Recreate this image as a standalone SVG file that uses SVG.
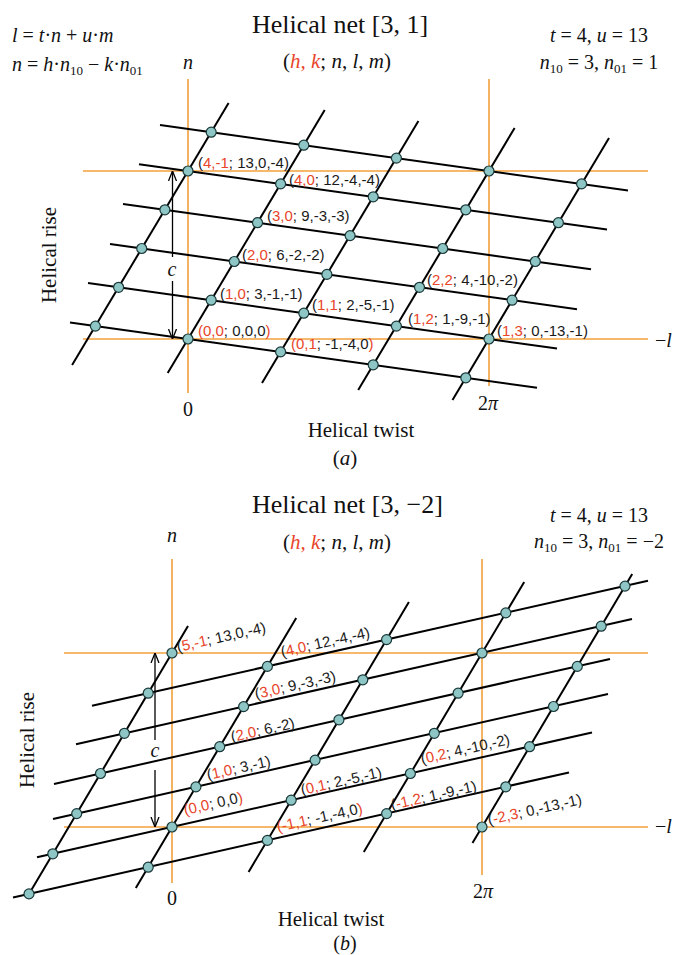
<svg xmlns="http://www.w3.org/2000/svg" width="675" height="955" viewBox="0 0 675 955">
<style>
.ln{stroke:#000;stroke-width:2;fill:none;stroke-linecap:butt}
.ax{stroke:#f2a03c;stroke-width:1.6;fill:none}
.nd{fill:#8ec6c6;stroke:#1b3838;stroke-width:1.2}
.lb{font-family:"Liberation Sans",Arial,sans-serif;font-size:15px;fill:#1a1a1a}
.r{fill:#e8452a}
.k{fill:#1a1a1a}
.sf{font-family:"Liberation Serif","Times New Roman",serif;fill:#111}
.f{font-size:20px}
.i{font-style:italic}
.sub{font-size:13px}
.arw{stroke:#000;stroke-width:1.3;fill:none}
</style>
<defs>
<marker id="ah" viewBox="0 0 10 10" refX="10" refY="5" markerWidth="10" markerHeight="10" markerUnits="userSpaceOnUse" orient="auto">
<path d="M0,1 L10,5 L0,9" fill="none" stroke="#000" stroke-width="1.3"/>
</marker>
</defs>

<!-- ============ Panel (a) ============ -->
<g id="a-texts">
<text class="sf" font-size="26" x="252" y="33">Helical net [3, 1]</text>
<text class="sf" font-size="21" x="337" y="68" text-anchor="middle">(<tspan class="i r">h, k</tspan>; <tspan class="i">n</tspan>, <tspan class="i">l</tspan>, <tspan class="i">m</tspan>)</text>
<text class="sf f" x="12" y="42"><tspan class="i">l</tspan> = <tspan class="i">t</tspan>·<tspan class="i">n</tspan> + <tspan class="i">u</tspan>·<tspan class="i">m</tspan></text>
<text class="sf f" x="12" y="71"><tspan class="i">n</tspan> = <tspan class="i">h</tspan>·<tspan class="i">n</tspan><tspan class="sub" dy="4">10</tspan><tspan dy="-4"> − </tspan><tspan class="i">k</tspan>·<tspan class="i">n</tspan><tspan class="sub" dy="4">01</tspan></text>
<text class="sf f" x="599" y="42" text-anchor="middle"><tspan class="i">t</tspan> = 4, <tspan class="i">u</tspan> = 13</text>
<text class="sf f" x="599" y="69" text-anchor="middle"><tspan class="i">n</tspan><tspan class="sub" dy="4">10</tspan><tspan dy="-4"> = 3, </tspan><tspan class="i">n</tspan><tspan class="sub" dy="4">01</tspan><tspan dy="-4"> = 1</tspan></text>
<text class="sf f i" x="188" y="69" text-anchor="middle">n</text>
<text class="sf" font-size="21" transform="translate(56,255) rotate(-90)" text-anchor="middle">Helical rise</text>
<text class="sf f i" x="172" y="276" text-anchor="middle">c</text>
<text class="sf f" x="188" y="416" text-anchor="middle">0</text>
<text class="sf f" x="488" y="410" text-anchor="middle">2<tspan class="i">π</tspan></text>
<text class="sf f" x="655" y="347">−<tspan class="i">l</tspan></text>
<text class="sf" font-size="21" x="361" y="437" text-anchor="middle">Helical twist</text>
<text class="sf" font-size="21" x="345" y="465" text-anchor="middle">(<tspan class="i">a</tspan>)</text>
</g>

<g id="a-axes">
<line class="ax" x1="188" y1="79" x2="188" y2="393"/>
<line class="ax" x1="489" y1="79" x2="489" y2="386"/>
<line class="ax" x1="83" y1="171" x2="648" y2="171"/>
<line class="ax" x1="83" y1="339" x2="648" y2="339"/>
</g>

<g id="a-connectors">
<line class="ln" x1="72.1" y1="365" x2="228.6" y2="103"/>
<line class="ln" x1="167.7" y1="373" x2="324.7" y2="110"/>
<line class="ln" x1="262" y1="383" x2="418.4" y2="121"/>
<line class="ln" x1="358.2" y1="390" x2="514.6" y2="128"/>
<line class="ln" x1="452.5" y1="400" x2="609" y2="138"/>
<line class="ln" x1="70" y1="322.6" x2="537" y2="387.7"/>
<line class="ln" x1="88" y1="283" x2="557" y2="348.5"/>
<line class="ln" x1="110" y1="244.1" x2="577" y2="309.2"/>
<line class="ln" x1="123" y1="204" x2="591" y2="269.2"/>
<line class="ln" x1="139" y1="164.2" x2="607" y2="229.5"/>
<line class="ln" x1="160" y1="125.1" x2="628" y2="190.4"/>
<line class="arw" x1="172.5" y1="257" x2="172.5" y2="171" marker-end="url(#ah)"/>
<line class="arw" x1="172.5" y1="281" x2="172.5" y2="339" marker-end="url(#ah)"/>
</g>

<g id="a-nodes">
<g id="a_0_m1"><circle class="nd" cx="95.4" cy="326.1" r="5"/></g>
<g id="a_1_m1"><circle class="nd" cx="118.6" cy="287.3" r="5"/></g>
<g id="a_2_m1"><circle class="nd" cx="141.7" cy="248.5" r="5"/></g>
<g id="a_3_m1"><circle class="nd" cx="164.9" cy="209.8" r="5"/></g>
<g id="a_4_m1"><circle class="nd" cx="188" cy="171" r="5"/><text class="lb" x="198" y="168">(<tspan class="r">4,-1</tspan>; 13,0,-4)</text></g>
<g id="a_5_m1"><circle class="nd" cx="211.2" cy="132.2" r="5"/></g>
<g id="a_0_0"><circle class="nd" cx="188" cy="339" r="5"/><text class="lb r" x="198" y="336">(0,0<tspan class="k">; 0,0,0</tspan>)</text></g>
<g id="a_1_0"><circle class="nd" cx="211.2" cy="300.2" r="5"/><text class="lb" x="220" y="299">(<tspan class="r">1,0</tspan>; 3,-1,-1)</text></g>
<g id="a_2_0"><circle class="nd" cx="234.3" cy="261.5" r="5"/><text class="lb" x="242" y="260">(<tspan class="r">2,0</tspan>; 6,-2,-2)</text></g>
<g id="a_3_0"><circle class="nd" cx="257.5" cy="222.7" r="5"/><text class="lb" x="267" y="221">(<tspan class="r">3,0</tspan>; 9,-3,-3)</text></g>
<g id="a_4_0"><circle class="nd" cx="280.6" cy="183.9" r="5"/><text class="lb" x="289" y="185">(<tspan class="r">4,0</tspan>; 12,-4,-4)</text></g>
<g id="a_5_0"><circle class="nd" cx="303.8" cy="145.2" r="5"/></g>
<g id="a_0_1"><circle class="nd" cx="280.6" cy="351.9" r="5"/><text class="lb r" x="291" y="349">(0,1<tspan class="k">; -1,-4,0</tspan>)</text></g>
<g id="a_1_1"><circle class="nd" cx="303.8" cy="313.2" r="5"/><text class="lb" x="312" y="310">(<tspan class="r">1,1</tspan>; 2,-5,-1)</text></g>
<g id="a_2_1"><circle class="nd" cx="326.9" cy="274.4" r="5"/></g>
<g id="a_3_1"><circle class="nd" cx="350.1" cy="235.6" r="5"/></g>
<g id="a_4_1"><circle class="nd" cx="373.2" cy="196.8" r="5"/></g>
<g id="a_5_1"><circle class="nd" cx="396.4" cy="158.1" r="5"/></g>
<g id="a_0_2"><circle class="nd" cx="373.2" cy="364.8" r="5"/></g>
<g id="a_1_2"><circle class="nd" cx="396.4" cy="326.1" r="5"/><text class="lb" x="408" y="324">(<tspan class="r">1,2</tspan>; 1,-9,-1)</text></g>
<g id="a_2_2"><circle class="nd" cx="419.5" cy="287.3" r="5"/><text class="lb" x="427" y="285">(<tspan class="r">2,2</tspan>; 4,-10,-2)</text></g>
<g id="a_3_2"><circle class="nd" cx="442.7" cy="248.5" r="5"/></g>
<g id="a_4_2"><circle class="nd" cx="465.8" cy="209.8" r="5"/></g>
<g id="a_5_2"><circle class="nd" cx="489" cy="171" r="5"/></g>
<g id="a_0_3"><circle class="nd" cx="465.8" cy="377.8" r="5"/></g>
<g id="a_1_3"><circle class="nd" cx="489" cy="339" r="5"/><text class="lb" x="497" y="336">(<tspan class="r">1,3</tspan>; 0,-13,-1)</text></g>
<g id="a_2_3"><circle class="nd" cx="512.1" cy="300.2" r="5"/></g>
<g id="a_3_3"><circle class="nd" cx="535.3" cy="261.5" r="5"/></g>
<g id="a_4_3"><circle class="nd" cx="558.4" cy="222.7" r="5"/></g>
<g id="a_5_3"><circle class="nd" cx="581.6" cy="183.9" r="5"/></g>
</g>

<!-- ============ Panel (b) ============ -->
<g id="b-texts">
<text class="sf" font-size="26" x="252" y="513">Helical net [3, −2]</text>
<text class="sf" font-size="21" x="337" y="549" text-anchor="middle">(<tspan class="i r">h, k</tspan>; <tspan class="i">n</tspan>, <tspan class="i">l</tspan>, <tspan class="i">m</tspan>)</text>
<text class="sf f" x="599" y="522" text-anchor="middle"><tspan class="i">t</tspan> = 4, <tspan class="i">u</tspan> = 13</text>
<text class="sf f" x="599" y="548" text-anchor="middle"><tspan class="i">n</tspan><tspan class="sub" dy="4">10</tspan><tspan dy="-4"> = 3, </tspan><tspan class="i">n</tspan><tspan class="sub" dy="4">01</tspan><tspan dy="-4"> = −2</tspan></text>
<text class="sf f i" x="172" y="542" text-anchor="middle">n</text>
<text class="sf" font-size="21" transform="translate(34,740) rotate(-90)" text-anchor="middle">Helical rise</text>
<text class="sf f i" x="155" y="757" text-anchor="middle">c</text>
<text class="sf f" x="172" y="905" text-anchor="middle">0</text>
<text class="sf f" x="483" y="898" text-anchor="middle">2<tspan class="i">π</tspan></text>
<text class="sf f" x="655" y="833">−<tspan class="i">l</tspan></text>
<text class="sf" font-size="21" x="331" y="926" text-anchor="middle">Helical twist</text>
<text class="sf" font-size="20" x="345" y="950" text-anchor="middle">(<tspan class="i">b</tspan>)</text>
</g>

<g id="b-axes">
<line class="ax" x1="172" y1="559" x2="172" y2="883"/>
<line class="ax" x1="482" y1="559" x2="482" y2="875"/>
<line class="ax" x1="64" y1="653" x2="648" y2="653"/>
<line class="ax" x1="64" y1="827" x2="648" y2="827"/>
</g>

<g id="b-connectors">
<line class="ln" x1="29" y1="894" x2="188" y2="626"/>
<line class="ln" x1="135.8" y1="888" x2="296.2" y2="618"/>
<line class="ln" x1="248.6" y1="872" x2="408.9" y2="602"/>
<line class="ln" x1="363.8" y1="852" x2="524.2" y2="582"/>
<line class="ln" x1="472.5" y1="843" x2="632.2" y2="574"/>
<line class="ln" x1="13" y1="897.5" x2="569" y2="772.4"/>
<line class="ln" x1="37" y1="857.3" x2="592" y2="732.5"/>
<line class="ln" x1="53" y1="818.9" x2="608" y2="694"/>
<line class="ln" x1="54" y1="783.9" x2="610" y2="658.9"/>
<line class="ln" x1="76" y1="744.2" x2="632" y2="619"/>
<line class="ln" x1="92" y1="705.8" x2="648" y2="580.8"/>
<line class="arw" x1="155" y1="740" x2="155" y2="653" marker-end="url(#ah)"/>
<line class="arw" x1="155" y1="770" x2="155" y2="827" marker-end="url(#ah)"/>
</g>

<g id="b-nodes">
<g id="b_m1_m1"><circle class="nd" cx="29" cy="893.9" r="5"/></g>
<g id="b_0_m1"><circle class="nd" cx="52.8" cy="853.8" r="5"/></g>
<g id="b_1_m1"><circle class="nd" cx="76.7" cy="813.6" r="5"/></g>
<g id="b_2_m1"><circle class="nd" cx="100.5" cy="773.5" r="5"/></g>
<g id="b_3_m1"><circle class="nd" cx="124.4" cy="733.3" r="5"/></g>
<g id="b_4_m1"><circle class="nd" cx="148.2" cy="693.2" r="5"/></g>
<g id="b_5_m1"><circle class="nd" cx="172" cy="653" r="5"/><text class="lb" transform="translate(178,652) rotate(-12.66)">(<tspan class="r">5,-1</tspan>; 13,0,-4)</text></g>
<g id="b_m1_0"><circle class="nd" cx="148.2" cy="867.2" r="5"/></g>
<g id="b_0_0"><circle class="nd" cx="172" cy="827" r="5"/><text class="lb r" transform="translate(185,815) rotate(-12.66)">(0,0<tspan class="k">; 0,0</tspan>)</text></g>
<g id="b_1_0"><circle class="nd" cx="195.9" cy="786.9" r="5"/><text class="lb" transform="translate(208,780) rotate(-12.66)">(<tspan class="r">1,0</tspan>; 3,-1)</text></g>
<g id="b_2_0"><circle class="nd" cx="219.7" cy="746.7" r="5"/><text class="lb" transform="translate(232,742) rotate(-12.66)">(<tspan class="r">2,0</tspan>; 6,-2)</text></g>
<g id="b_3_0"><circle class="nd" cx="243.6" cy="706.6" r="5"/><text class="lb" transform="translate(256,699) rotate(-12.66)">(<tspan class="r">3,0</tspan>; 9,-3,-3)</text></g>
<g id="b_4_0"><circle class="nd" cx="267.4" cy="666.4" r="5"/><text class="lb" transform="translate(282,657) rotate(-12.66)">(<tspan class="r">4,0</tspan>; 12,-4,-4)</text></g>
<g id="b_m1_1"><circle class="nd" cx="267.4" cy="840.4" r="5"/><text class="lb r" transform="translate(278,832) rotate(-12.66)">(-1,1<tspan class="k">; -1,-4,0</tspan>)</text></g>
<g id="b_0_1"><circle class="nd" cx="291.2" cy="800.2" r="5"/><text class="lb" transform="translate(302,795) rotate(-12.66)">(<tspan class="r">0,1</tspan>; 2,-5,-1)</text></g>
<g id="b_1_1"><circle class="nd" cx="315.1" cy="760.1" r="5"/></g>
<g id="b_2_1"><circle class="nd" cx="338.9" cy="719.9" r="5"/></g>
<g id="b_3_1"><circle class="nd" cx="362.8" cy="679.8" r="5"/></g>
<g id="b_4_1"><circle class="nd" cx="386.6" cy="639.6" r="5"/></g>
<g id="b_m1_2"><circle class="nd" cx="386.6" cy="813.6" r="5"/><text class="lb" transform="translate(392,810) rotate(-12.66)">(<tspan class="r">-1,2</tspan>; 1,-9,-1)</text></g>
<g id="b_0_2"><circle class="nd" cx="410.4" cy="773.5" r="5"/><text class="lb" transform="translate(422,764) rotate(-12.66)">(<tspan class="r">0,2</tspan>; 4,-10,-2)</text></g>
<g id="b_1_2"><circle class="nd" cx="434.3" cy="733.3" r="5"/></g>
<g id="b_2_2"><circle class="nd" cx="458.1" cy="693.2" r="5"/></g>
<g id="b_3_2"><circle class="nd" cx="482" cy="653" r="5"/></g>
<g id="b_4_2"><circle class="nd" cx="505.8" cy="612.9" r="5"/></g>
<g id="b_m2_3"><circle class="nd" cx="482" cy="827" r="5"/><text class="lb" transform="translate(489,825) rotate(-12.66)">(<tspan class="r">-2,3</tspan>; 0,-13,-1)</text></g>
<g id="b_m1_3"><circle class="nd" cx="505.8" cy="786.8" r="5"/></g>
<g id="b_0_3"><circle class="nd" cx="529.6" cy="746.7" r="5"/></g>
<g id="b_1_3"><circle class="nd" cx="553.5" cy="706.5" r="5"/></g>
<g id="b_2_3"><circle class="nd" cx="577.3" cy="666.4" r="5"/></g>
<g id="b_3_3"><circle class="nd" cx="601.2" cy="626.2" r="5"/></g>
<g id="b_4_3"><circle class="nd" cx="625" cy="586.1" r="5"/></g>
</g>
</svg>
